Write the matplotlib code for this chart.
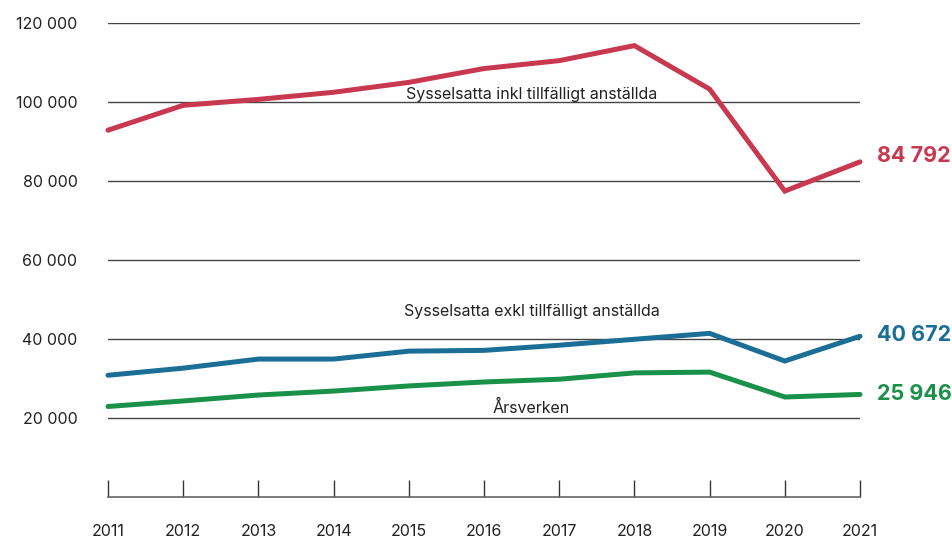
import matplotlib.pyplot as plt
import numpy as np

plt.rcParams['font.family'] = ['Inter', 'DejaVu Sans']

years = [2011, 2012, 2013, 2014, 2015, 2016, 2017, 2018, 2019, 2020, 2021]
inkl = [92800, 99100, 100600, 102400, 104900, 108400, 110400, 114200, 103200, 77400, 84792]
exkl = [30800, 32600, 34900, 34900, 36900, 37100, 38400, 39900, 41400, 34400, 40672]
arsverken = [22900, 24300, 25800, 26800, 28100, 29100, 29800, 31400, 31600, 25300, 25946]
y_ticks = [20000, 40000, 60000, 80000, 100000, 120000]

red = '#c8384f'
blue = '#1b6e96'
green = '#1a9149'

fig = plt.figure(figsize=(9.53, 5.4), dpi=100)
ax = fig.add_axes([108 / 953, 1 - 497 / 540, 752 / 953, 474.3 / 540])

for yv in y_ticks:
    ax.axhline(yv, color='#444444', lw=1, zorder=1)

ax.plot(years, inkl, color=red, lw=3.6, solid_capstyle='round', solid_joinstyle='miter', clip_on=False, zorder=3)
ax.plot(years, exkl, color=blue, lw=3.6, solid_capstyle='round', solid_joinstyle='miter', clip_on=False, zorder=3)
ax.plot(years, arsverken, color=green, lw=3.6, solid_capstyle='round', solid_joinstyle='miter', clip_on=False, zorder=3)

def fmt(v):
    return f'{v:,}'.replace(',', ' ')

# end value labels
for series, col, dy in [(inkl, red, 4), (exkl, blue, 1), (arsverken, green, 0)]:
    ax.annotate(fmt(series[-1]), (years[-1], series[-1]), xytext=(12, dy), textcoords='offset points',
                color=col, fontsize=15.5, fontweight='bold', va='center', ha='left', annotation_clip=False)

ax.text(2016.63, 101900, 'Sysselsatta inkl tillfälligt anställda', ha='center', va='center', fontsize=11.5, color='#222222')
ax.text(2016.63, 47000, 'Sysselsatta exkl tillfälligt anställda', ha='center', va='center', fontsize=11.5, color='#222222')
ax.text(2016.63, 22400, 'Årsverken', ha='center', va='center', fontsize=11.5, color='#222222')

ax.set_xlim(2011, 2021)
ax.set_ylim(0, 120000)
ax.set_xticks(years)
ax.set_yticks(y_ticks)
ax.set_yticklabels([fmt(v) for v in y_ticks])

for s in ['top', 'right', 'left']:
    ax.spines[s].set_visible(False)
ax.spines['bottom'].set_color('#666666')
ax.spines['bottom'].set_linewidth(1.2)

ax.tick_params(axis='x', direction='in', length=12.5, width=1, color='#333333', pad=19.5, labelsize=11.5, labelcolor='#222222')
ax.tick_params(axis='y', length=0, pad=22, labelsize=11.5, labelcolor='#222222')

fig.savefig('out.png', dpi=100)
